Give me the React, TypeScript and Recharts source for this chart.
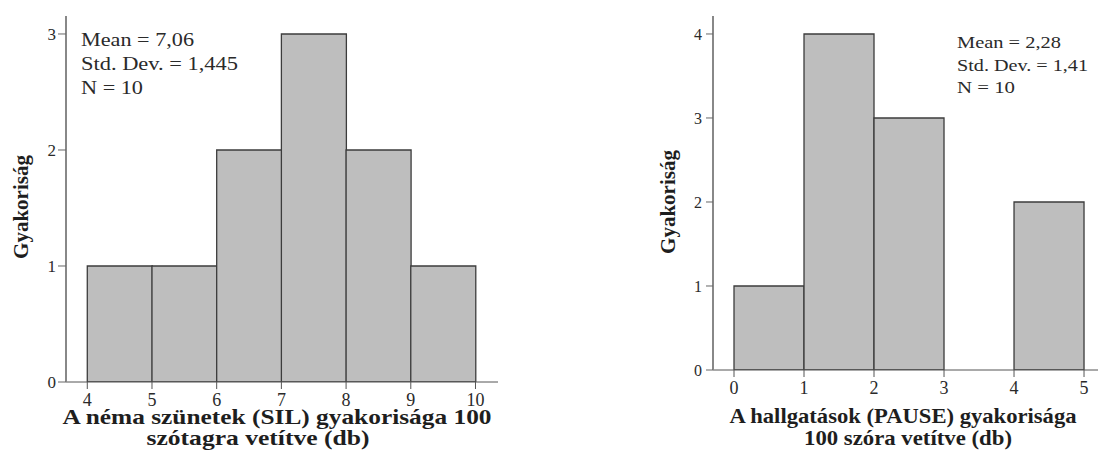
import { BarChart, Bar, XAxis, YAxis, ReferenceArea, Customized } from 'recharts'

// left panel: silent pauses (SIL) per 100 syllables
const silBinStarts = [4, 5, 6, 7, 8, 9]
const silCounts = [1, 1, 2, 3, 2, 1]
const silXTicks = [4, 5, 6, 7, 8, 9, 10]
const silYTicks = [0, 1, 2, 3]
const silStats = ['Mean = 7,06', 'Std. Dev. = 1,445', 'N = 10']

// right panel: pauses (PAUSE) per 100 words
const pauseBinStarts = [0, 1, 2, 3, 4]
const pauseCounts = [1, 4, 3, 0, 2]
const pauseXTicks = [0, 1, 2, 3, 4, 5]
const pauseYTicks = [0, 1, 2, 3, 4]
const pauseStats = ['Mean = 2,28', 'Std. Dev. = 1,41', 'N = 10']

const FONT = "'Liberation Serif', 'Times New Roman', serif"
const BAR_FILL = '#bebebe'
const BAR_STROKE = '#3c3c3c'
const FRAME = '#9a9a9a'

const toBins = (starts: number[], counts: number[]) =>
  starts.map((s, i) => ({ mid: s + 0.5, count: counts[i] }))

const silData = toBins(silBinStarts, silCounts)
const pauseData = toBins(pauseBinStarts, pauseCounts)

interface TextLine {
  text: string
  x: number
  y: number
  len?: number
}

function Overlay({ stats, statsSize, titleLines, yTitle }: {
  stats: TextLine[]
  statsSize: number
  titleLines: TextLine[]
  yTitle: { x: number; y: number }
}) {
  return (
    <g fontFamily={FONT}>
      {stats.map((s) => (
        <text key={s.text} x={s.x} y={s.y} fontSize={statsSize} fill="#2a2a2a"
          textLength={s.len} lengthAdjust="spacingAndGlyphs">
          {s.text}
        </text>
      ))}
      {titleLines.map((t) => (
        <text key={t.text} x={t.x} y={t.y} fontSize={21} fontWeight="bold" fill="#1e1e1e"
          textAnchor="middle" textLength={t.len} lengthAdjust="spacingAndGlyphs">
          {t.text}
        </text>
      ))}
      <text x={yTitle.x} y={yTitle.y} fontSize={21} fontWeight="bold" fill="#1e1e1e"
        textAnchor="middle" transform={`rotate(-90 ${yTitle.x} ${yTitle.y})`}>
        Gyakoriság
      </text>
    </g>
  )
}

const tickStyle = (size: number) => ({ fontSize: size, fill: '#2a2a2a', fontFamily: FONT })

export default function App() {
  const silLines: TextLine[] = silStats.map((t, i) => ({
    text: t, x: 81, y: 46 + i * 24, len: [113, 157, 62][i],
  }))
  const pauseLines: TextLine[] = pauseStats.map((t, i) => ({
    text: t, x: 397, y: 48 + i * 22.5, len: [104, 131, 58][i],
  }))

  return (
    <div style={{ position: 'absolute', left: 0, top: 0, width: 1098, height: 450, background: '#fff', overflow: 'hidden' }}>
      <div style={{ position: 'absolute', left: 0, top: 0 }}>
        <BarChart width={540} height={450} data={silData} barCategoryGap={0} barGap={0}
          margin={{ top: 16, right: 42, bottom: 0, left: 0 }}>
          <XAxis type="number" dataKey="mid" domain={[3.671, 10.348]} ticks={silXTicks} allowDataOverflow
            interval={0} height={68} tickSize={7} tickMargin={4} tick={tickStyle(18)}
            axisLine={{ stroke: '#555' }} tickLine={{ stroke: '#555' }} />
          <YAxis type="number" domain={[0, 3.155]} ticks={silYTicks} allowDataOverflow
            width={66} tickSize={8} tickMargin={2} tick={tickStyle(17)}
            axisLine={{ stroke: '#888', strokeWidth: 2 }} tickLine={{ stroke: '#666' }} />
          <ReferenceArea fill="none" stroke={FRAME} strokeWidth={2} />
          <Bar dataKey="count" fill={BAR_FILL} stroke={BAR_STROKE} strokeWidth={1.3} isAnimationActive={false} />
          <Customized component={() => (
            <Overlay stats={silLines} statsSize={18} yTitle={{ x: 28, y: 207 }}
              titleLines={[
                { text: 'A néma szünetek (SIL) gyakorisága 100', x: 277, y: 424, len: 429 },
                { text: 'szótagra vetítve (db)', x: 258, y: 445, len: 223 },
              ]} />
          )} />
        </BarChart>
      </div>
      <div style={{ position: 'absolute', left: 560, top: 0, width: 538, height: 450, overflow: 'hidden' }}>
        <BarChart width={552} height={450} data={pauseData} barCategoryGap={0} barGap={0}
          margin={{ top: 16, right: 2, bottom: 0, left: 0 }}>
          <XAxis type="number" dataKey="mid" domain={[-0.3, 5.371]} ticks={pauseXTicks} allowDataOverflow
            interval={0} height={80} tickSize={7} tickMargin={4} tick={tickStyle(18)}
            axisLine={{ stroke: '#555' }} tickLine={{ stroke: '#555' }} />
          <YAxis type="number" domain={[0, 4.214]} ticks={pauseYTicks} allowDataOverflow
            width={153} tickSize={7} tickMargin={4} tick={tickStyle(16)}
            axisLine={{ stroke: '#888', strokeWidth: 2 }} tickLine={{ stroke: '#666' }} />
          <ReferenceArea fill="none" stroke={FRAME} strokeWidth={2} />
          <Bar dataKey="count" fill={BAR_FILL} stroke={BAR_STROKE} strokeWidth={1.3} isAnimationActive={false} />
          <Customized component={() => (
            <Overlay stats={pauseLines} statsSize={17} yTitle={{ x: 115, y: 202 }}
              titleLines={[
                { text: 'A hallgatások (PAUSE) gyakorisága', x: 343, y: 423, len: 347 },
                { text: '100 szóra vetítve (db)', x: 348, y: 445, len: 208 },
              ]} />
          )} />
        </BarChart>
      </div>
    </div>
  )
}
